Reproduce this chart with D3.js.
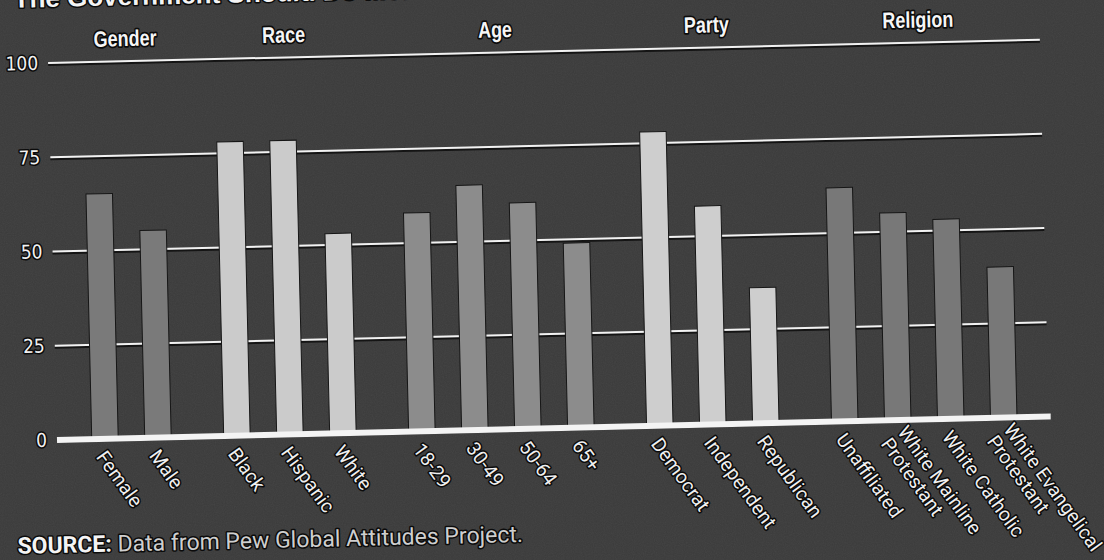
<!DOCTYPE html>
<html>
<head>
<meta charset="utf-8">
<script src="https://cdn.jsdelivr.net/npm/d3@7"></script>
<style>
  body { margin: 0; background: #3b3b3b; }
  svg { display: block; }
</style>
</head>
<body>
<script>
// Survey breakdown: share agreeing, by demographic group
const groups = ["Gender", "Race", "Age", "Party", "Religion"];
const categories = [
  "Female", "Male",
  "Black", "Hispanic", "White",
  "18-29", "30-49", "50-64", "65+",
  "Democrat", "Independent", "Republican",
  "Unaffiliated", "White Mainline\nProtestant", "White Catholic", "White Evangelical\nProtestant"
];
const categoryGroup = [
  "Gender", "Gender",
  "Race", "Race", "Race",
  "Age", "Age", "Age", "Age",
  "Party", "Party", "Party",
  "Religion", "Religion", "Religion", "Religion"
];
const values = [65, 55, 78, 78, 53, 58, 65, 60, 49, 78, 58, 36, 62, 55, 53, 40];
const yTicks = [0, 25, 50, 75, 100];
const groupColors = ["#7a7a7a", "#cbcbcb", "#8c8c8c", "#cecece", "#787878"];

const W = 1104, H = 560;
const GROUP_GAP = 0.49;   // extra space between groups, in bar steps

const svg = d3.select("body").append("svg")
  .attr("width", W).attr("height", H);

// paper grain
const defs = svg.append("defs");
const grain = defs.append("filter").attr("id", "grain")
  .attr("x", 0).attr("y", 0).attr("width", "100%").attr("height", "100%");
grain.append("feTurbulence").attr("type", "fractalNoise")
  .attr("baseFrequency", 0.9).attr("numOctaves", 2).attr("seed", 7).attr("result", "n");
grain.append("feColorMatrix").attr("type", "saturate").attr("values", 0);

svg.append("rect").attr("width", W).attr("height", H).attr("fill", "#3b3b3b");
svg.append("rect").attr("width", W).attr("height", H)
  .attr("filter", "url(#grain)").attr("opacity", 0.07);

// the printed page sits slightly askew
const g = svg.append("g").attr("transform", "translate(53,440) rotate(-1.35)");

// slot position of each bar: index plus a gap per preceding group
const slots = categories.map((c, i) => i + groups.indexOf(categoryGroup[i]) * GROUP_GAP);
const x = d3.scaleLinear()
  .domain([0, categories.length - 1 + (groups.length - 1) * GROUP_GAP])
  .range([52, 951]);
const y = d3.scaleLinear().domain([0, 100]).range([0, -377]);
const color = d3.scaleOrdinal().domain(groups).range(groupColors);
const barW = 26.5;

const halo = (sel, w = 3) => sel
  .attr("stroke", "#0b0b0b").attr("stroke-width", w)
  .attr("stroke-linejoin", "round").attr("paint-order", "stroke");

// gridlines with a dark drop edge
const rules = yTicks.filter(t => t > 0);
const grid = g.append("g");
grid.selectAll("line.shadow").data(rules).join("line")
  .attr("class", "shadow")
  .attr("x1", 4).attr("x2", 996)
  .attr("y1", d => y(d) + 2).attr("y2", d => y(d) + 2)
  .attr("stroke", "#141414").attr("stroke-width", 2);
grid.selectAll("line.rule").data(rules).join("line")
  .attr("class", "rule")
  .attr("x1", 4).attr("x2", 996)
  .attr("y1", d => y(d)).attr("y2", d => y(d))
  .attr("stroke", "#f2f2f2").attr("stroke-width", 2);

// bars
g.append("g").selectAll("rect").data(values).join("rect")
  .attr("x", (d, i) => x(slots[i]) - barW / 2)
  .attr("width", barW)
  .attr("y", d => y(d))
  .attr("height", d => y(0) - y(d))
  .attr("fill", (d, i) => color(categoryGroup[i]))
  .attr("stroke", "#161616").attr("stroke-width", 1);

// baseline
g.append("rect").attr("x", 4).attr("width", 994).attr("y", y(0) - 1).attr("height", 4)
  .attr("fill", "#111");
g.append("rect").attr("x", 4).attr("width", 994).attr("y", y(0) - 3).attr("height", 6)
  .attr("fill", "#f4f4f4");

// value axis labels
const yAxis = g.append("g").attr("transform", "translate(-6,0)")
  .call(d3.axisLeft(y).tickValues(yTicks).tickSize(0).tickPadding(0));
yAxis.select(".domain").remove();
yAxis.selectAll("text")
  .attr("fill", "#f2f2f2")
  .attr("font-family", "'Liberation Sans Narrow', 'DejaVu Sans Condensed', sans-serif")
  .attr("font-size", 19)
  .call(halo);

// group headers, condensed bold
groups.forEach(name => {
  const idx = d3.range(categories.length).filter(i => categoryGroup[i] === name);
  const cx = (x(slots[idx[0]]) + x(slots[idx[idx.length - 1]])) / 2 + 3;
  g.append("text")
    .attr("transform", `translate(${cx},-392) scale(0.8,1)`)
    .attr("text-anchor", "middle")
    .attr("fill", "#f6f6f6")
    .attr("font-family", "'Liberation Sans', Arial, sans-serif")
    .attr("font-weight", "bold")
    .attr("font-size", 22.5)
    .text(name)
    .call(halo, 3.5);
});

// category labels, slanted
const labels = g.append("g").selectAll("text").data(categories).join("text")
  .attr("transform", (d, i) => `translate(${x(slots[i]) - 10},18) rotate(55.5)`)
  .attr("fill", "#f0f0f0")
  .attr("font-family", "Roboto, 'Liberation Sans', sans-serif")
  .attr("font-size", 19.5)
  .call(halo);
labels.each(function (d) {
  const lines = d.split("\n");
  const t = d3.select(this);
  lines.forEach((line, k) => {
    t.append("tspan")
      .attr("x", 0)
      .attr("dy", k === 0 ? `${-(lines.length - 1) * 0.55}em` : "1.05em")
      .text(line);
  });
});

// title, running off the top edge
g.append("text")
  .attr("x", -29).attr("y", -433)
  .attr("fill", "#f4f4f4")
  .attr("font-family", "'Liberation Sans', Arial, sans-serif")
  .attr("font-weight", "bold")
  .attr("font-size", 26)
  .text("The Government Should Do More")
  .call(halo);

// source note
const src = g.append("text")
  .attr("x", -38).attr("y", 113)
  .attr("font-family", "Roboto, 'Liberation Sans', sans-serif")
  .attr("font-size", 23)
  .call(halo);
src.append("tspan").attr("font-weight", "bold").attr("fill", "#f4f4f4").text("SOURCE:");
src.append("tspan").attr("fill", "#cfcfcf").text(" Data from Pew Global Attitudes Project.");
</script>
</body>
</html>
